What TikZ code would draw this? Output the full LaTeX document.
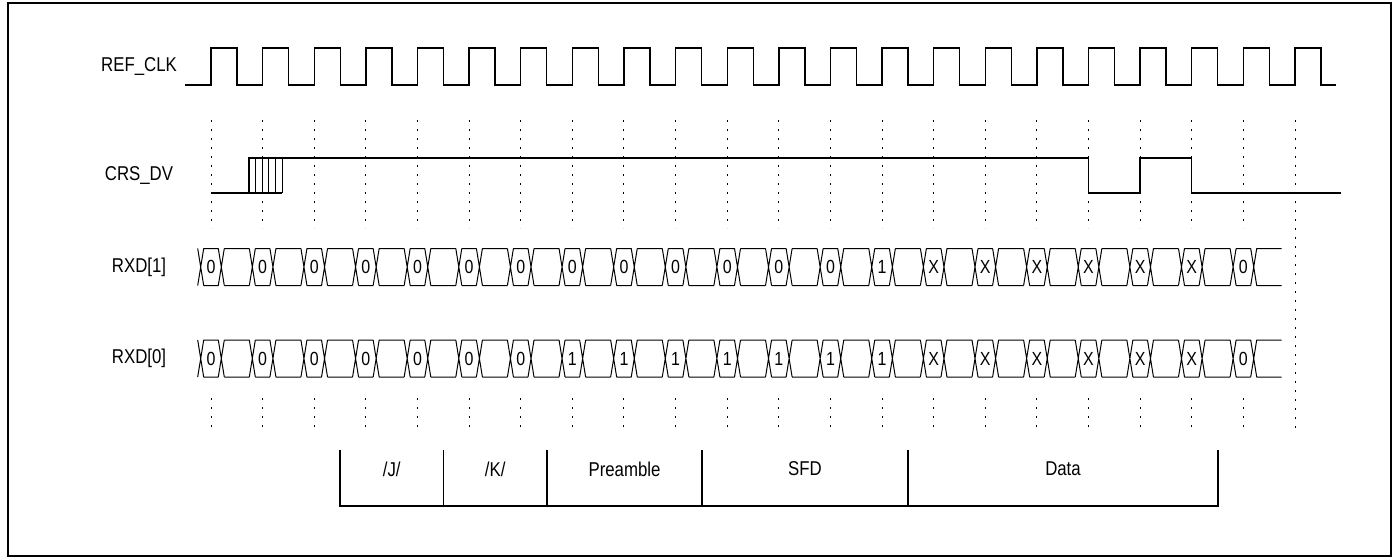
\documentclass[tikz,border=0pt]{standalone}
\usepackage{fontspec}
\setmainfont{Liberation Sans}[FakeStretch=0.84]
\newcommand\myper{51.62}
\newcommand\mybus[4]{% #1 name, #2 top, #3 bottom, #4 values
  \foreach \v [count=\k from 0] in {#4} {
    \pgfmathsetmacro\e{211+\k*\myper}
    \pgfmathsetmacro\a{\e-10.3}
    \pgfmathsetmacro\b{\e+10.3}
    \draw[bus] ({\a-3},#2) -- ({\a+3},#3) ({\a-3},#3) -- ({\a+3},#2)
      ({\a+3},#2) -- ({\b-3},#2) ({\a+3},#3) -- ({\b-3},#3)
      ({\b-3},#2) -- ({\b+3},#3) ({\b-3},#3) -- ({\b+3},#2)
      ({\b+3},#2) -- ({\e+38.3},#2) ({\b+3},#3) -- ({\e+38.3},#3);
    \node[val] (#1v\k) at (\e,{(#2+#3)/2}) {\v};
  }%
}
\begin{document}
\begin{tikzpicture}[x=1pt,y=-1pt,
  sig/.style={line width=1.4pt, line join=miter},
  bus/.style={line width=1pt},
  gridline/.style={line width=1pt, dash pattern=on 1.6pt off 7.4pt},
  lbl/.style={font=\fontsize{20}{24}\selectfont, inner sep=0pt},
  val/.style={font=\fontsize{19}{22}\selectfont, inner sep=0pt},
  brk/.style={line width=1.2pt}]
\useasboundingbox (0,0) rectangle (1397,559);
\draw[line width=2pt] (8,3) rectangle (1391,556);

% signal names
\node[lbl] (refclk) at (139,66.5) {REF\_CLK};
\node[lbl] (crsdv) at (139,175.5) {CRS\_DV};
\node[lbl] (rxd1) at (139,267) {RXD[1]};
\node[lbl] (rxd0) at (139,358.5) {RXD[0]};

% clock
\draw[sig] (185,85) foreach \k in {0,...,21} {
  -- ({211+\k*\myper},85) -- ({211+\k*\myper},48)
  -- ({237+\k*\myper},48) -- ({237+\k*\myper},85) } -- (1336,85);

% dotted guides
\foreach \k in {0,...,20} {
  \draw[gridline] ({211+\k*\myper},120) -- ++(0,108);
  \draw[gridline] ({211+\k*\myper},398) -- ++(0,35);
}
\draw[gridline] ({211+21*\myper},120) -- ({211+21*\myper},432);

% CRS_DV
\draw[sig] (211,193) -- (282,193);
\draw[sig] (249,193) -- (249,158) -- ({211+17*\myper},158) -- ({211+17*\myper},193)
  -- ({211+18*\myper},193) -- ({211+18*\myper},158) -- ({211+19*\myper},158)
  -- ({211+19*\myper},193) -- (1341,193);
\foreach \x in {255.6,262.2,268.8,275.4,282} \draw[bus] (\x,158) -- (\x,193);

% data buses
\mybus{ra}{248.5}{285.5}{0,0,0,0,0,0,0,0,0,0,0,0,0,1,X,X,X,X,X,X,0}
\mybus{rb}{340}{377}{0,0,0,0,0,0,0,1,1,1,1,1,1,1,X,X,X,X,X,X,0}

% frame brackets
\draw[brk] (340,450) -- (340,506) -- (1218,506) -- (1218,450);
\foreach \x in {443.5,547,702,908} \draw[brk] (\x,450) -- (\x,506);
\node[lbl] (fj) at (391.75,469) {/J/};
\node[lbl] (fk) at (495.25,469) {/K/};
\node[lbl] (fpre) at (624.5,469) {Preamble};
\node[lbl] (fsfd) at (805,469) {SFD};
\node[lbl] (fdata) at (1063,469) {Data};
\end{tikzpicture}
\end{document}
